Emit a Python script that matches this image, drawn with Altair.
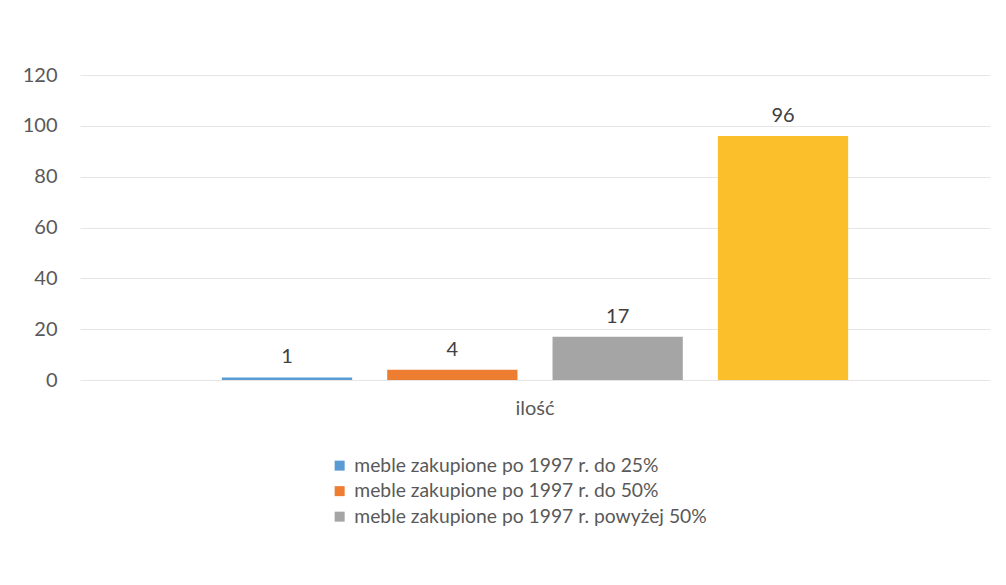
import altair as alt
import pandas as pd

category = ["ilość"]
series = [
    "meble zakupione po 1997 r. do 25%",
    "meble zakupione po 1997 r. do 50%",
    "meble zakupione po 1997 r. powyżej 50%",
    "meble zakupione przed 1997 r.",
]
values = [1, 4, 17, 96]
colors = ["#5B9BD5", "#ED7D31", "#A5A5A5", "#FABF2A"]

df = pd.DataFrame({
    "kategoria": category * len(series),
    "seria": series,
    "wartosc": values,
})

FONT = "Lato"
TXT = "#595959"

base = alt.Chart(df).encode(
    x=alt.X("kategoria:N", title=None,
            scale=alt.Scale(paddingInner=0, paddingOuter=0.188),
            axis=alt.Axis(labelAngle=0, ticks=False, domain=False, grid=False,
                          labelPadding=18, labelFontSize=20, labelColor=TXT,
                          labelFont=FONT)),
    xOffset=alt.XOffset("seria:N", sort=series,
                        scale=alt.Scale(paddingInner=0.212, paddingOuter=0.106)),
)

bars = base.mark_bar().encode(
    y=alt.Y("wartosc:Q", title=None,
            scale=alt.Scale(domain=[0, 120]),
            axis=alt.Axis(values=[0, 20, 40, 60, 80, 100, 120], ticks=False,
                          domain=False, labelPadding=23, labelFontSize=20,
                          labelColor=TXT, labelFont=FONT,
                          gridColor="#E6E6E6", gridWidth=1)),
    color=alt.Color("seria:N", sort=series,
                    scale=alt.Scale(domain=series, range=colors),
                    legend=alt.Legend(values=series[:3], title=None,
                                      orient="none", legendX=250, legendY=381,
                                      direction="vertical", symbolType="square",
                                      symbolSize=100, symbolStrokeWidth=0,
                                      labelFontSize=19.3, labelColor=TXT,
                                      labelFont=FONT, rowPadding=5.5,
                                      labelOffset=5, labelLimit=0)),
)

labels = base.mark_text(baseline="alphabetic", dy=-14, fontSize=20,
                        color="#404040", font=FONT).encode(
    y=alt.Y("wartosc:Q"),
    text=alt.Text("wartosc:Q"),
)

chart = (bars + labels).properties(
    width=910, height=305,
    background="white",
    autosize=alt.AutoSizeParams(type="none"),
    padding={"left": 72, "top": 67, "right": 8, "bottom": 197},
).configure_view(stroke=None)

chart.save("out.html", embed_options={"renderer": "svg", "actions": False})
